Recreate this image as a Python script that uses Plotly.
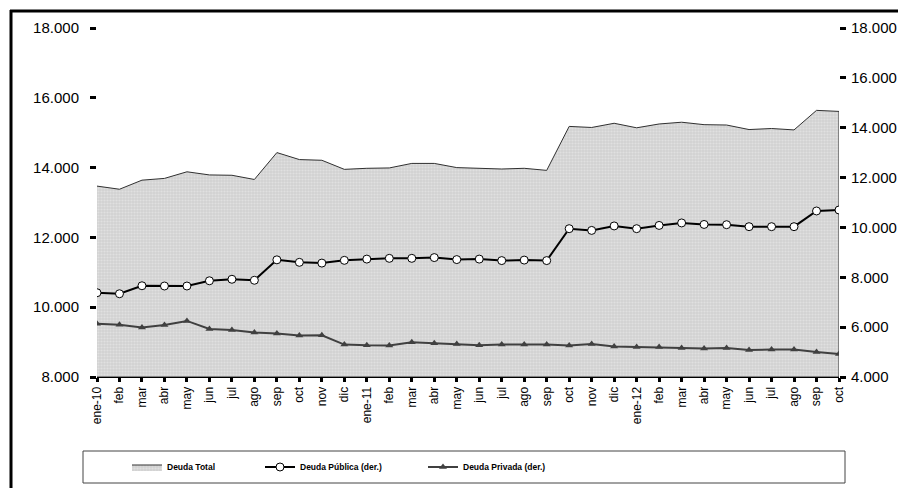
import plotly.graph_objects as go

# ---- data ----
month_labels = ["ene-10", "feb", "mar", "abr", "may", "jun", "jul", "ago", "sep", "oct", "nov", "dic",
                "ene-11", "feb", "mar", "abr", "may", "jun", "jul", "ago", "sep", "oct", "nov", "dic",
                "ene-12", "feb", "mar", "abr", "may", "jun", "jul", "ago", "sep", "oct"]
deuda_total = [13470, 13380, 13640, 13690, 13880, 13790, 13780, 13660, 14430, 14230, 14210, 13950,
               13980, 13990, 14120, 14120, 14000, 13980, 13960, 13980, 13920, 15180, 15150, 15270,
               15140, 15250, 15300, 15230, 15220, 15090, 15120, 15080, 15640, 15610]
deuda_publica = [7380, 7340, 7660, 7650, 7650, 7860, 7920, 7880, 8700, 8600, 8570, 8680,
                 8730, 8760, 8760, 8790, 8710, 8730, 8670, 8690, 8670, 9950, 9880, 10060,
                 9950, 10080, 10180, 10120, 10110, 10030, 10030, 10030, 10660, 10700]
deuda_privada = [6140, 6100, 5990, 6090, 6250, 5930, 5890, 5790, 5740, 5660, 5670, 5300,
                 5270, 5260, 5390, 5350, 5320, 5270, 5300, 5300, 5300, 5260, 5320, 5220,
                 5200, 5200, 5160, 5140, 5160, 5080, 5100, 5100, 5000, 4920]
left_ticks = [8000, 10000, 12000, 14000, 16000, 18000]
right_ticks = [4000, 6000, 8000, 10000, 12000, 14000, 16000, 18000]
left_range = [8000, 18000]
right_range = [4000, 18000]

x = list(range(len(month_labels)))

def fmt(v):
    return f"{v:,}".replace(",", ".")

# ---- geometry (pixels, in window coordinates; page body has an 8px margin) ----
OFF = 8
W, H = 906 - 2 * OFF, 496 - 2 * OFF
PL, PR, PT, PB = 97, 839, 28, 377

def px_x(p):
    return (p - PL) / (PR - PL)

def px_y(p):
    return (PB - p) / (PB - PT)

fig = go.Figure()

# area polygon closed at the bottom of the left axis
fig.add_trace(go.Scatter(
    x=x + [x[-1], x[0]],
    y=deuda_total + [left_range[0], left_range[0]],
    fill="toself",
    mode="lines",
    line=dict(color="#303030", width=1),
    fillcolor="#d4d4d4",
    fillpattern=dict(shape=".", bgcolor="#d2d2d2", fgcolor="#eeeeee", size=3, solidity=0.4),
    name="Deuda Total",
    legend="legend",
    hoverinfo="skip",
))

fig.add_trace(go.Scatter(
    x=x, y=deuda_publica, yaxis="y2", mode="lines+markers",
    line=dict(color="black", width=2),
    marker=dict(symbol="circle", size=8, color="white", line=dict(color="black", width=1)),
    name="Deuda Pública (der.)",
    legend="legend2",
))

fig.add_trace(go.Scatter(
    x=x, y=deuda_privada, yaxis="y2", mode="lines+markers",
    line=dict(color="#404040", width=2),
    marker=dict(symbol="triangle-up", size=7, color="#404040"),
    name="Deuda Privada (der.)",
    legend="legend3",
))

FAM = "Liberation Sans, Arial, sans-serif"
tickfont = dict(family=FAM, size=15, color="black")
legfont = dict(family=FAM, size=8.5, color="black", weight="bold")

leg_y = px_y(467)
common_leg = dict(orientation="h", yanchor="middle", y=leg_y, xanchor="left",
                  bgcolor="rgba(0,0,0,0)", borderwidth=0, font=legfont)

fig.update_layout(
    width=W, height=H,
    margin=dict(l=PL - OFF, r=(W + OFF) - PR, t=PT - OFF, b=(H + OFF) - PB, autoexpand=False),
    paper_bgcolor="white", plot_bgcolor="white",
    showlegend=True,
    xaxis=dict(
        range=[x[0], x[-1]], tickvals=x, ticktext=month_labels, tickangle=-90,
        ticks="outside", ticklen=4, tickwidth=3, tickcolor="black",
        showgrid=False, zeroline=False, showline=True, linecolor="black", linewidth=1,
        tickfont=dict(family=FAM, size=12, color="black"),
    ),
    yaxis=dict(
        range=left_range, tickvals=left_ticks, ticktext=[fmt(v) for v in left_ticks],
        ticks="outside", ticklen=6, tickwidth=3, tickcolor="black", ticklabelstandoff=8,
        showgrid=False, zeroline=False, showline=False, tickfont=tickfont,
    ),
    yaxis2=dict(
        range=right_range, tickvals=right_ticks, ticktext=[fmt(v) for v in right_ticks],
        overlaying="y", side="right",
        ticks="outside", ticklen=6, tickwidth=3, tickcolor="black", ticklabelstandoff=2,
        showgrid=False, zeroline=False, showline=False, tickfont=tickfont,
    ),
    legend=dict(x=px_x(127), **common_leg),
    legend2=dict(x=px_x(260), **common_leg),
    legend3=dict(x=px_x(423), **common_leg),
    shapes=[
        dict(type="line", xref="paper", yref="paper",
             x0=px_x(11), x1=px_x(11), y0=px_y(600), y1=px_y(10),
             line=dict(color="black", width=3), layer="above"),
        dict(type="line", xref="paper", yref="paper",
             x0=px_x(10), x1=px_x(1000), y0=px_y(11), y1=px_y(11),
             line=dict(color="black", width=3), layer="above"),
        dict(type="rect", xref="paper", yref="paper",
             x0=px_x(83), x1=px_x(845), y0=px_y(483), y1=px_y(451),
             line=dict(color="#444444", width=1), fillcolor="rgba(0,0,0,0)", layer="below"),
    ],
)

fig.write_html("out.html")
